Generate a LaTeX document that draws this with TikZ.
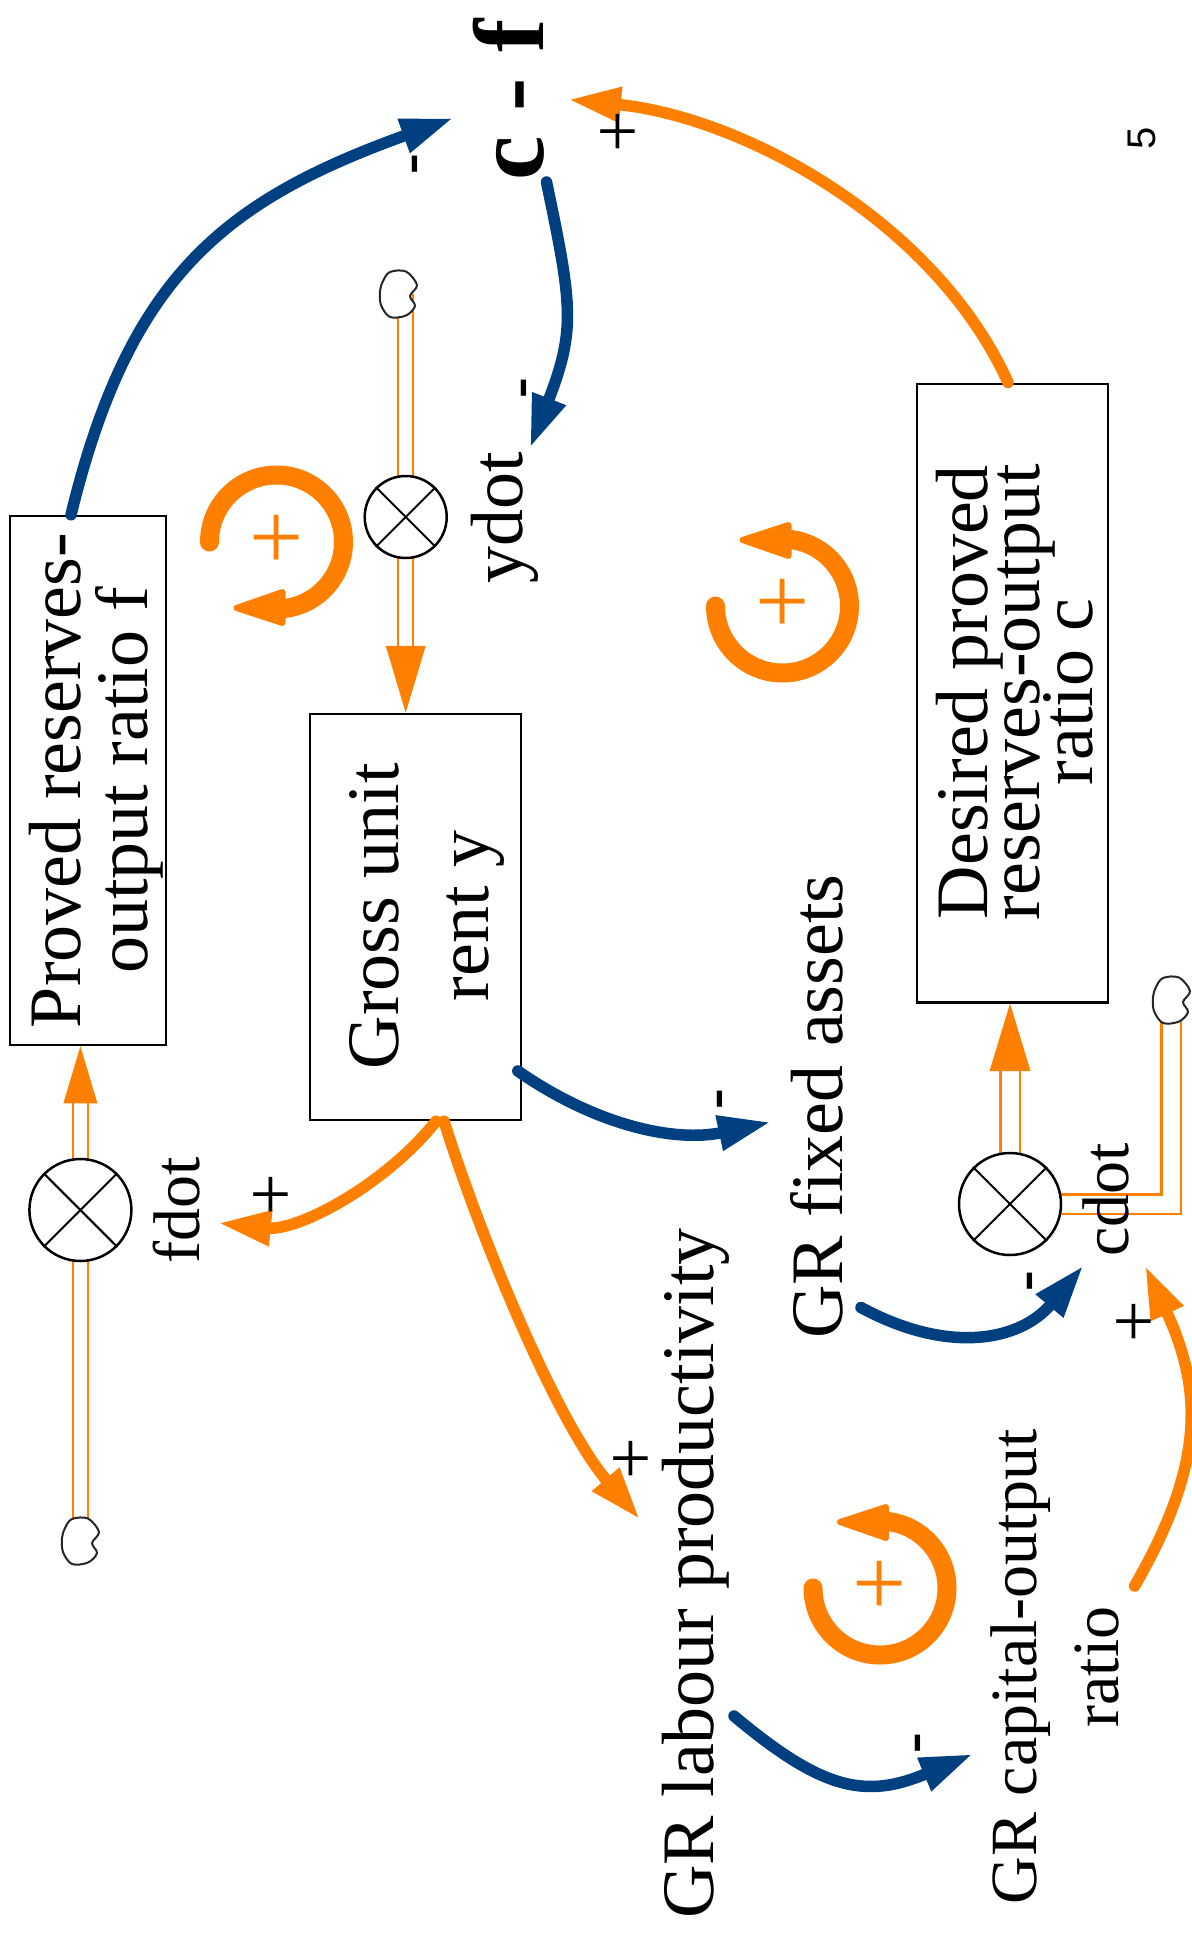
\documentclass[tikz,border=0pt]{standalone}
\usepackage{fontspec}
\setmainfont{Liberation Serif}
\newfontfamily\pagenumfont{Liberation Sans}
\usetikzlibrary{arrows.meta,calc}

\definecolor{sdorange}{RGB}{255,128,0}
\definecolor{sdblue}{RGB}{0,63,128}

% centred lines with a fixed baseline distance; the box baseline is that of the last line
\newcommand\stackedlines[2]{\vbox{\baselineskip=#1\relax\lineskiplimit=-\maxdimen\lineskip=0pt\relax
  \halign{\hfil##\hfil\cr#2\crcr}}}

\begin{document}
\begin{tikzpicture}[x=1pt,y=-1pt,
  stockbox/.style={draw, line width=2.5pt, rotate=90, inner sep=0pt},
  vlabel/.style={rotate=90, anchor=base, inner sep=0pt, font=\fontsize{74}{80}\selectfont},
  smalllabel/.style={vlabel, font=\fontsize{66}{72}\selectfont},
  valve/.style={circle, draw, fill=white, line width=2.5pt, inner sep=0pt},
  pipe/.style={draw=sdorange, double=white, double distance=13pt, line width=2.2pt},
  link/.style={line width=11.5pt, line cap=round, -{Triangle[length=53pt,width=33pt]}},
  plussign/.style={rotate=90, inner sep=0pt, font=\fontsize{74}{80}\selectfont},
  minussign/.style={rotate=90, inner sep=0pt, font=\bfseries\fontsize{62}{70}\selectfont},
  loopmark/.style={draw=sdorange, line width=19pt, line cap=round},
  loophead/.style={fill=sdorange, draw=sdorange, line width=6pt, line join=round},
  loopsign/.style={inner sep=0pt, text=sdorange, font=\fontsize{96}{100}\selectfont},
  cloudblob/.pic={\filldraw[fill=white, draw=black!85, line width=2pt]
    plot[smooth cycle, tension=0.55] coordinates {(-15,-13) (-8,-22) (8,-22.5) (19,-9)
      (12,2) (17,12) (8,21.5) (-8,23) (-17,11) (-18,-3)};}
]
\useasboundingbox (0,0) rectangle (1191,1943);

% ---- stocks ----
\node[stockbox, minimum width=529pt, minimum height=156pt] (pbox) at (88,780.5) {};
\node[stockbox, minimum width=406pt, minimum height=211pt] (gbox) at (415.5,917) {};
\node[stockbox, minimum width=618.5pt, minimum height=191pt] (dbox) at (1012.5,693) {};

% ---- sources and sinks ----
\coordinate (tcloud) at (398,294);
\coordinate (lcloud) at (80,1541);
\coordinate (rcloud) at (1171,1000);

% ---- flow pipes ----
\coordinate (tvpos) at (405.7,517);
\coordinate (lvpos) at (80.4,1210);
\coordinate (cvpos) at (1010,1204);

\draw[pipe, double distance=12.5pt] (tcloud -| tvpos) -- (tvpos);
\draw[pipe, double distance=12.5pt, shorten >=67pt] (tvpos) -- (tvpos |- gbox.east);
\coordinate (gin) at (tvpos |- gbox.east);
\fill[sdorange] ($(gin)+(-20,-67)$) -- (gin) -- ($(gin)+(20,-67)$) -- cycle;

\draw[pipe] (lvpos) -- (lcloud -| lvpos);
\draw[pipe, shorten >=57pt] (lvpos) -- (lvpos |- pbox.west);
\coordinate (pin) at (lvpos |- pbox.west);
\fill[sdorange] ($(pin)+(-17,57)$) -- (pin) -- ($(pin)+(17,57)$) -- cycle;

\draw[pipe, double distance=17pt] (cvpos) -| (rcloud);
\draw[pipe, double distance=17pt, shorten >=67.6pt] (cvpos) -- (cvpos |- dbox.west);
\coordinate (din) at (cvpos |- dbox.west);
\fill[sdorange] ($(din)+(-20.5,67.6)$) -- (din) -- ($(din)+(20.5,67.6)$) -- cycle;

\pic at (tcloud) {cloudblob};
\pic at (lcloud) {cloudblob};
\pic at (rcloud) {cloudblob};

% ---- valves ----
\node[valve, minimum size=82pt] (tv) at (tvpos) {};
\node[valve, minimum size=102pt] (lv) at (lvpos) {};
\node[valve, minimum size=102pt] (cv) at (cvpos) {};
\foreach \v in {tv,lv,cv}
  \draw[line width=2pt] (\v.45) -- (\v.225) (\v.135) -- (\v.315);

% ---- texts ----
\node[vlabel] (ptext) at (147,780.5) {\stackedlines{67pt}{Proved reserves-\cr output ratio f}};
\node[vlabel] (gtext) at (488,916) {\stackedlines{90pt}{Gross unit\cr rent y}};
\node[vlabel] (dtext) at (1092,692) {\stackedlines{52.5pt}{Desired proved\cr reserves-output\cr ratio c}};

\node[vlabel, font=\bfseries\fontsize{100}{110}\selectfont] (cf) at (543,100) {c - f};
\node[vlabel] (ydot) at (522,518) {ydot};
\node[smalllabel] (fdot) at (199,1210) {fdot};
\node[smalllabel] (cdot) at (1128,1200) {cdot};
\node[vlabel] (gfa) at (842,1106.5) {GR fixed assets};
\node[vlabel] (glp) at (713.5,1573.5) {GR labour productivity};
\node[smalllabel] (gco) at (1118,1667) {\stackedlines{81.5pt}{GR capital-output\cr ratio}};
\node[vlabel, font=\pagenumfont\fontsize{40}{48}\selectfont] (pagenum) at (1155,138) {5};

% ---- causal links ----
\draw[link, sdblue] ($(pbox.east)+(-17,0)$) .. controls +(58,-238) and +(-230,83) .. ($(cf.base)+(-89.5,18)$);
\draw[link, sdblue] ($(cf.base)+(3.5,82)$) .. controls +(26,124) and +(45.7,-118) .. ($(ydot.base)+(8,-70)$);
\draw[link, sdorange] ($(dbox.east)+(-4.5,0)$) .. controls +(-72.4,-160.6) and +(175.6,17.6) .. ($(cf.base)+(25,-0.5)$);
\draw[link, sdblue] ($(gbox.south)+(-4.4,154)$) .. controls +(79.5,55.3) and +(-95,20.4) .. ($(gfa.base)+(-71,15.5)$);
\draw[link, sdorange] ($(gbox.west)+(20.5,0)$) .. controls +(-50,63) and +(80.6,8.1) .. ($(fdot.base)+(19,13)$);
\draw[link, sdorange] ($(gbox.west)+(28.5,0)$) .. controls +(38,121) and +(-82.5,-96.5) .. ($(glp.base)+(-73.5,-54)$);
\draw[link, sdblue] ($(glp.base)+(20.5,142.5)$) .. controls +(88.9,74.6) and +(-107,45) .. ($(gco.base)+(-145,87)$);
\draw[link, sdblue] ($(gfa.base)+(19,201)$) .. controls +(87,47) and +(-63.7,75.8) .. ($(cdot.base)+(-44.5,65.5)$);
\draw[link, sdorange] ($(gco.base)+(16.6,-81)$) .. controls +(69.5,-120.4) and +(58.4,126) .. ($(cdot.base)+(17,65.5)$);

% ---- link polarities ----
\node[minussign] (s1) at (420.4,164) {-};
\node[minussign] (s2) at (529.4,388) {-};
\node[plussign] (s3) at (622,131.5) {+};
\node[minussign] (s4) at (725.4,1099) {-};
\node[plussign] (s5) at (274.5,1195) {+};
\node[plussign] (s6) at (635,1459) {+};
\node[minussign] (s7) at (923.4,1743) {-};
\node[minussign] (s8) at (1035.4,1281) {-};
\node[plussign] (s9) at (1138,1322) {+};

% ---- reinforcing loop markers ----
\coordinate (la) at (276.5,542);
\draw[loopmark] (la) ++(-67,0) arc[start angle=180, end angle=442.7, radius=67];
\filldraw[loophead] ($(la)+(6,50)$) -- ($(la)+(6,81)$) -- ($(la)+(-40,66)$) -- cycle;
\node[loopsign] (la+) at (la) {+};

\coordinate (lb) at (782.5,606);
\draw[loopmark] (lb) ++(-67,0) arc[start angle=180, end angle=-82.7, radius=67];
\filldraw[loophead] ($(lb)+(6,-50)$) -- ($(lb)+(6,-81)$) -- ($(lb)+(-40,-66)$) -- cycle;
\node[loopsign] (lb+) at (lb) {+};

\coordinate (lc) at (880,1588);
\draw[loopmark] (lc) ++(-67,0) arc[start angle=180, end angle=-82.7, radius=67];
\filldraw[loophead] ($(lc)+(6,-50)$) -- ($(lc)+(6,-81)$) -- ($(lc)+(-40,-66)$) -- cycle;
\node[loopsign] (lc+) at (lc) {+};
\end{tikzpicture}
\end{document}
